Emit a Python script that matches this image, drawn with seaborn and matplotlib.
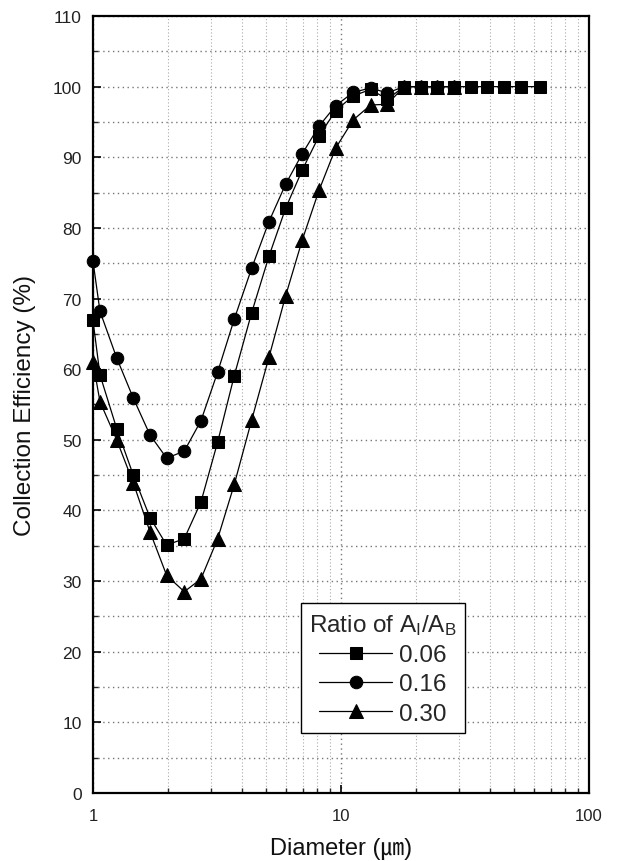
import numpy as np
import pandas as pd
import matplotlib
matplotlib.use("Agg")
import matplotlib.pyplot as plt
from matplotlib.ticker import LogLocator, MultipleLocator, FixedFormatter, FixedLocator, NullFormatter
import seaborn as sns

# Particle diameter (um)
diameter = [1.0, 1.067, 1.246, 1.454, 1.697, 1.982, 2.334, 2.725, 3.183, 3.714,
            4.364, 5.125, 5.984, 6.982, 8.152, 9.520, 11.21, 13.18, 15.37, 17.95,
            20.96, 24.45, 28.55, 33.34, 38.90, 45.41, 53.03, 63.45]

# Collection efficiency (%) for each ratio A_I/A_B
eff_006 = [66.9, 59.2, 51.6, 45.0, 39.0, 35.1, 36.0, 41.2, 49.7, 59.1,
           68.0, 76.0, 82.8, 88.2, 93.0, 96.6, 98.7, 99.6, 98.2, 100.0,
           100.0, 100.0, 100.0, 100.0, 100.0, 100.0, 100.0, 100.0]
eff_016 = [75.3, 68.2, 61.6, 55.9, 50.7, 47.4, 48.4, 52.7, 59.6, 67.1,
           74.3, 80.9, 86.2, 90.5, 94.4, 97.3, 99.2, 99.8, 99.1, 100.0,
           100.0, 100.0, 100.0]
eff_030 = [61.0, 55.4, 50.0, 43.9, 37.0, 30.8, 28.5, 30.3, 36.0, 43.7,
           52.8, 61.7, 70.4, 78.3, 85.3, 91.3, 95.3, 97.4, 97.5, 100.0,
           100.0, 100.0, 100.0]

ratio_labels = ["0.06", "0.16", "0.30"]
y_ticks = [0, 10, 20, 30, 40, 50, 60, 70, 80, 90, 100, 110]
x_tick_labels = ["1", "10", "100"]

sns.set_theme(style="ticks")
plt.rcParams["font.family"] = ["Liberation Sans", "DejaVu Sans"]
plt.rcParams["mathtext.fontset"] = "custom"
plt.rcParams["mathtext.rm"] = "Liberation Sans"
plt.rcParams["mathtext.it"] = "Liberation Sans"

frames = []
for lab, vals in zip(ratio_labels, [eff_006, eff_016, eff_030]):
    frames.append(pd.DataFrame({"Diameter": diameter[:len(vals)],
                                "Efficiency": vals, "Ratio": lab}))
df = pd.concat(frames, ignore_index=True)

fig = plt.figure(figsize=(6.17, 8.62), dpi=100)
ax = fig.add_axes([0.1507, 0.0789, 0.8039, 0.9014])

# marker, size, z-order (squares drawn on top)
styles = {"0.06": ("s", 8.5, 5), "0.16": ("o", 9.0, 4), "0.30": ("^", 10.0, 3)}
for lab in ["0.30", "0.16", "0.06"]:
    sub = df[df["Ratio"] == lab]
    mk, ms, z = styles[lab]
    sns.lineplot(data=sub, x="Diameter", y="Efficiency", ax=ax, color="black",
                 linewidth=0.9, marker=mk, markersize=ms, markeredgecolor="black",
                 markerfacecolor="black", label=lab, zorder=z, clip_on=False,
                 estimator=None, sort=False)

ax.set_xscale("log")
ax.set_xlim(1, 100)
ax.set_ylim(0, 110)

ax.xaxis.set_major_locator(FixedLocator([1, 10, 100]))
ax.xaxis.set_major_formatter(FixedFormatter(x_tick_labels))
ax.xaxis.set_minor_locator(LogLocator(base=10, subs=np.arange(2, 10)))
ax.xaxis.set_minor_formatter(NullFormatter())
ax.set_yticks(y_ticks)
ax.yaxis.set_minor_locator(MultipleLocator(5))

ax.tick_params(axis="both", which="major", direction="in", length=6, width=1.2,
               colors="black", labelcolor="#222222")
ax.tick_params(axis="y", which="major", labelsize=12.5, pad=8)
ax.tick_params(axis="x", which="major", labelsize=12, pad=11)
ax.tick_params(axis="both", which="minor", direction="in", length=3.5, width=1.0)

ax.grid(True, which="major", axis="both", linestyle=(0, (1, 2.5)), color="#777777", linewidth=1.0)
ax.grid(True, which="minor", axis="y", linestyle=(0, (1, 2.5)), color="#777777", linewidth=1.0)
ax.grid(True, which="minor", axis="x", linestyle=(0, (1, 2)), color="#aaaaaa", linewidth=0.8)
ax.set_axisbelow(True)

for sp in ax.spines.values():
    sp.set_linewidth(1.6)
    sp.set_color("black")

ax.set_ylabel("Collection Efficiency (%)", fontsize=17.5, labelpad=12, color="#111111")
ax.set_xlabel("Diameter (㎛)", fontsize=17, labelpad=10, color="#111111",
              family=["Liberation Sans", "Noto Sans CJK KR"])

handles, labels = ax.get_legend_handles_labels()
order = [labels.index(l) for l in ratio_labels]
leg = ax.legend([handles[i] for i in order], [labels[i] for i in order],
                title=r"Ratio of A$_{\rm I}$/A$_{\rm B}$",
                loc="lower left", bbox_to_anchor=(0.419, 0.077),
                fontsize=17.5, title_fontsize=17.5, frameon=True, fancybox=False,
                edgecolor="black", framealpha=1, handlelength=3.0,
                handletextpad=0.3, labelspacing=0.3, borderpad=0.35,
                borderaxespad=0)
leg.get_frame().set_linewidth(1.0)

fig.savefig("out.png", dpi=100)
